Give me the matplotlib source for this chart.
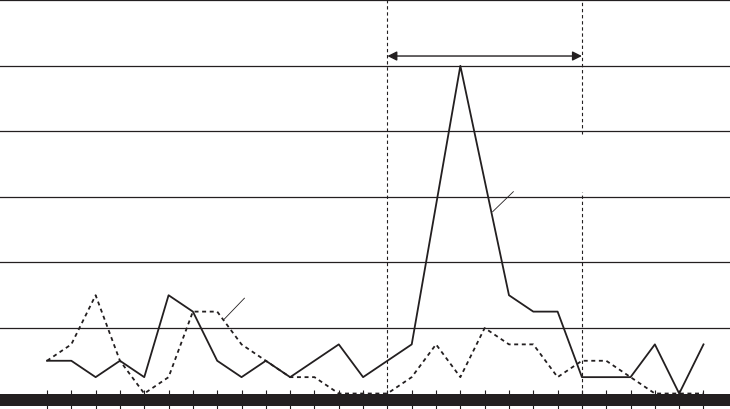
import matplotlib
matplotlib.use("Agg")
import matplotlib.pyplot as plt
import numpy as np

# series values (in quarter-gridline units)
solid = [2, 2, 1, 2, 1, 6, 5, 2, 1, 2, 1, 2, 3, 1, 2, 3, 11.5, 20, 13, 6, 5, 5, 1, 1, 1, 3, 0, 3]
dotted = [2, 3, 6, 2, 0, 1, 5, 5, 3, 2, 1, 1, 0, 0, 0, 1, 3, 1, 4, 3, 3, 1, 2, 2, 1, 0, 0, 0]
grid_levels = [4, 8, 12, 16, 20, 24]
period_start = 14
period_end = 22

INK = '#231f20'
x = np.arange(len(solid))

fig = plt.figure(figsize=(7.3, 4.1), dpi=100)
ax = fig.add_axes([0, 0, 1, 1])
ax.set_xlim(-1.933, 28.09)
ax.set_ylim(-0.944, 24.08)
ax.axis('off')

# horizontal gridlines
for g in grid_levels:
  ax.axhline(g, color=INK, linewidth=0.9, zorder=1)

# thick base bar and ticks
ax.axhspan(-0.74, -0.02, color=INK, linewidth=0, zorder=2)
ax.vlines(x, -0.95, 0.22, color=INK, linewidth=0.8, zorder=2)

# period markers (right one is broken where a label used to sit)
dash = (0, (3, 2.5))
ax.vlines(period_start, 0, 24.08, color=INK, linewidth=0.8, linestyles=[dash], zorder=1)
ax.vlines([period_end, period_end], [0, 15.87], [12.33, 24.08], color=INK, linewidth=0.8, linestyles=[dash], zorder=1)
ax.annotate('', xy=(period_start, 20.6), xytext=(period_end, 20.6),
            arrowprops=dict(arrowstyle='<|-|>', color=INK, linewidth=1.0,
                            mutation_scale=14, shrinkA=0, shrinkB=0))

# series
ax.plot(x, dotted, color=INK, linewidth=1.3, linestyle=(0, (2.2, 2)), zorder=3)
ax.plot(x, solid, color=INK, linewidth=1.3, zorder=4)

# leader lines (labels not shown)
ax.plot([18.33, 19.18], [11.1, 12.32], color=INK, linewidth=0.6, zorder=4)
ax.plot([7.29, 8.12], [4.54, 5.82], color=INK, linewidth=0.6, zorder=4)

fig.savefig('out.png', dpi=100)
